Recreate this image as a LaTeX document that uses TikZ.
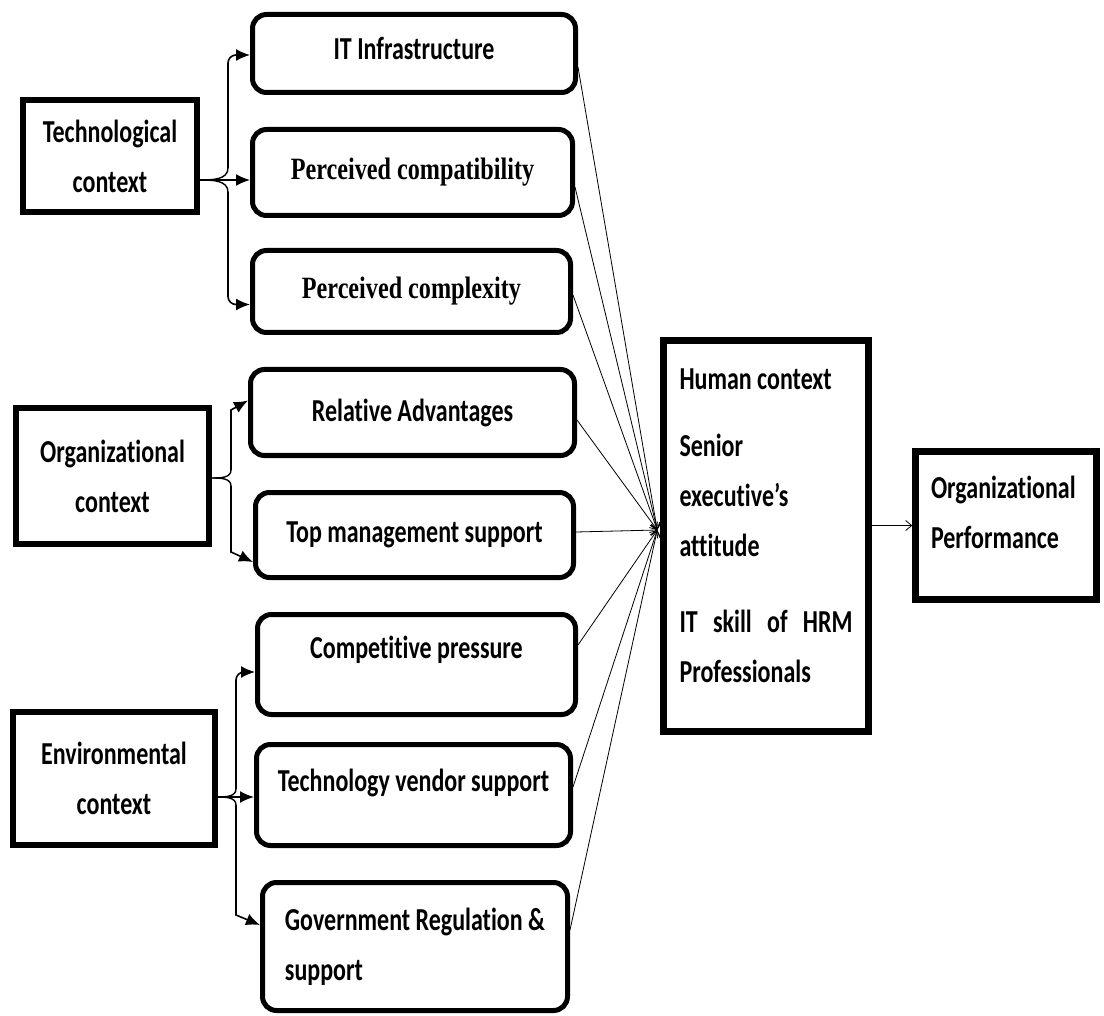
\documentclass[tikz,border=0pt]{standalone}
\usepackage{fontspec}
\setmainfont{Carlito}[FakeStretch=0.75,Ligatures=NoCommon]
\newfontfamily\serifcond{Liberation Serif}[FakeStretch=0.78]
\usetikzlibrary{arrows.meta}

\begin{document}
\begin{tikzpicture}[x=1pt,y=-1pt,
  every node/.style={font=\fontsize{32}{50}\selectfont\bfseries, inner sep=0pt},
  ctx/.style={draw,line width=6.5pt,align=center},
  factor/.style={draw,line width=5pt,rounded corners=14pt},
  serif/.style={font=\fontsize{31}{50}\selectfont\serifcond\bfseries},
  lift/.style={text depth=#1},
  spine/.style={line width=1.4pt},
  branch/.style={line width=1.6pt,-{Latex[length=14pt,width=12pt]}},
  conn/.style={line width=0.8pt,-{Straight Barb[length=6pt,width=10pt]}}]

  \useasboundingbox (0,0) rectangle (1104,1016);

  % contexts
  \node[ctx,minimum width=174pt,minimum height=112pt] (tech) at (110,156) {Technological\\context};
  \node[ctx,minimum width=193pt,minimum height=136pt] (org) at (112.5,476) {Organizational\\context};
  \node[ctx,minimum width=202pt,minimum height=133pt] (env) at (114,778.5) {Environmental\\context};

  % factors
  \node[factor,minimum width=323pt,minimum height=78pt,lift=10pt] (infra) at (414,53.5) {IT Infrastructure};
  \node[factor,serif,minimum width=320pt,minimum height=86pt] (compat) at (412.5,172.5) {Perceived compatibility};
  \node[factor,serif,minimum width=318pt,minimum height=82pt] (complex) at (411.5,291.5) {Perceived complexity};
  \node[factor,minimum width=324pt,minimum height=86pt] (reladv) at (412.5,412.5) {Relative Advantages};
  \node[factor,minimum width=318pt,minimum height=85pt] (topmgmt) at (414.5,535) {Top management support};
  \node[factor,minimum width=318pt,minimum height=100pt,lift=34pt] (comp) at (416.5,664.5) {Competitive pressure};
  \node[factor,minimum width=314pt,minimum height=101pt,lift=30pt] (vendor) at (413.5,795) {Technology vendor support};
  \node[factor,minimum width=305pt,minimum height=128pt,align=flush left] (gov) at (415,946.5) {Government Regulation \&\\support};

  % human context and performance
  \node[ctx,align=flush left,text width=173pt,minimum width=205pt,minimum height=391pt] (human) at (766,536)
    {Human context\\[17pt]Senior\\executive's\\attitude\\[26pt]IT\hfill skill\hfill of\hfill HRM\\Professionals\\[-30pt]\mbox{}};
  \node[ctx,align=flush left,text width=150pt,minimum width=181pt,minimum height=148pt] (perf) at (1006,525.5)
    {Organizational\\Performance\\[-24pt]\mbox{}};

  % technological brace
  \coordinate (tn) at ([yshift=-24pt]tech.east);
  \coordinate (tu) at (228,168);
  \coordinate (td) at (228,192);
  \draw[spine] (tn) to[out=0,in=-90] (tu);
  \draw[spine] (tn) to[out=0,in=90] (td);
  \draw[branch,rounded corners=8pt] (tu) |- ([yshift=-1.5pt]infra.west);
  \draw[branch] (tn) -- (tn -| compat.west);
  \draw[branch,rounded corners=8pt] (td) |- ([yshift=-13pt]complex.west);

  % organizational brace
  \coordinate (on) at ([yshift=-2pt]org.east);
  \coordinate (ou) at (231,470);
  \coordinate (od) at (231,486);
  \draw[spine] (on) to[out=0,in=-90] (ou);
  \draw[spine] (on) to[out=0,in=90] (od);
  \draw[branch] (ou) -- (231,410) -- ([yshift=12pt]reladv.west);
  \draw[branch] (od) -- (231,552) -- ([yshift=-27pt]topmgmt.west);

  % environmental brace
  \coordinate (en) at ([yshift=-18.5pt]env.east);
  \coordinate (eu) at (236,789);
  \coordinate (ed) at (236,805);
  \draw[spine] (en) to[out=0,in=-90] (eu);
  \draw[spine] (en) to[out=0,in=90] (ed);
  \draw[branch,rounded corners=8pt] (eu) |- ([yshift=-7.5pt]comp.west);
  \draw[branch] (en) -- (en -| vendor.west);
  \draw[branch] (ed) -- (236,915) -- ([yshift=21.5pt]gov.west);

  % factors into human context
  \coordinate (hin) at ([yshift=6pt,xshift=-3pt]human.west);
  \foreach \f/\dy in {infra/-13.5, compat/-14.5, complex/-3.5, reladv/-7.5, topmgmt/3, comp/19.5, vendor/8, gov/16.5}
    \draw[conn] ([yshift=\dy pt]\f.east) -- (hin);

  \draw[conn] ([yshift=10.5pt]human.east) -- (perf.west);
\end{tikzpicture}
\end{document}
